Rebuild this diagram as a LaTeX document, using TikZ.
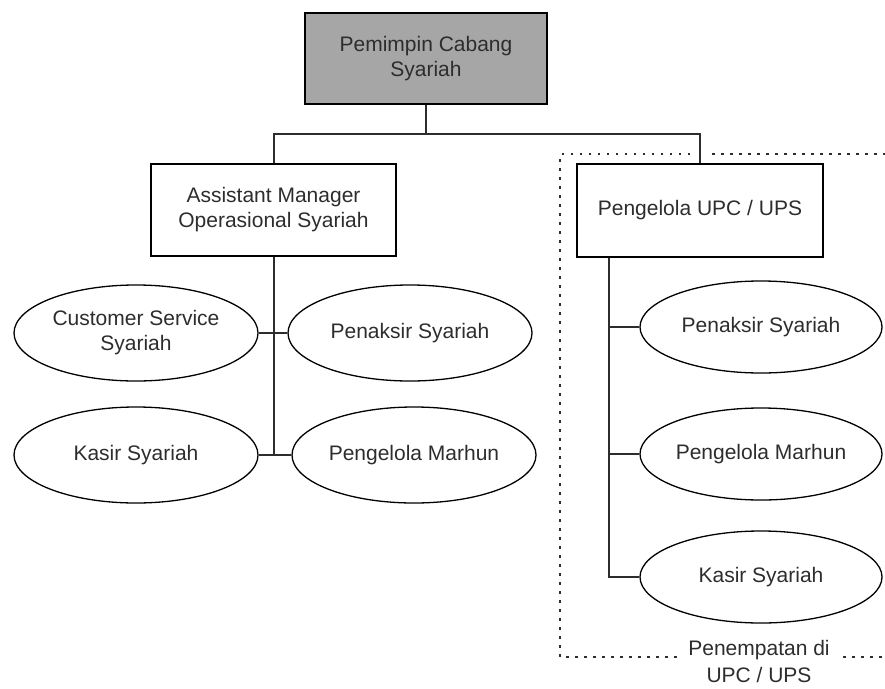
\documentclass[tikz,border=0pt]{standalone}
\usepackage{fontspec}
\setmainfont{Liberation Sans}
\usetikzlibrary{shapes.geometric}
\definecolor{kepala}{RGB}{166,166,166}
\definecolor{tinta}{RGB}{45,45,45}
\tikzset{
  kotak/.style={draw, line width=1.3pt, minimum width=245pt, minimum height=92pt,
    align=center, inner sep=0pt, text=tinta},
  elips/.style={draw, ellipse, line width=1.3pt, minimum width=244pt, minimum height=96pt,
    align=center, inner sep=0pt, text=tinta},
  garis/.style={line width=2pt, tinta},
  titik/.style={line width=2.2pt, dash pattern=on 2.5pt off 6.5pt, tinta}
}
\begin{document}
\begin{tikzpicture}[x=1pt, y=-1pt, font=\fontsize{21}{25}\selectfont]
    \useasboundingbox (0,0) rectangle (885,688);
    % kotak jabatan
    \node[kotak, fill=kepala, minimum width=242pt, minimum height=91pt] (pimpinan) at (426,58.5) {Pemimpin Cabang\\Syariah};
    \node[kotak] (asmen) at (273.5,210) {Assistant Manager\\Operasional Syariah};
    \node[kotak, minimum width=246pt, minimum height=93pt] (upc) at (700,210.5) {Pengelola UPC / UPS};
    % elips kiri
    \node[elips] (cs) at (136,333) {Customer Service\\Syariah};
    \node[elips] (penaksirA) at (410,333) {Penaksir Syariah};
    \node[elips] (kasirA) at (136,455) {Kasir Syariah};
    \node[elips] (marhunA) at (414,455) {Pengelola Marhun};
    % elips kanan
    \node[elips, minimum width=242pt, minimum height=92pt] (penaksirB) at (761,327) {Penaksir Syariah};
    \node[elips, minimum width=242pt, minimum height=92pt] (marhunB) at (761,454) {Pengelola Marhun};
    \node[elips, minimum width=242pt, minimum height=92pt] (kasirB) at (761,577) {Kasir Syariah};
    % garis
    \coordinate (simpang) at (426,134);
    \draw[garis] (pimpinan.south) -- (simpang);
    \draw[garis] (asmen.north) |- (simpang) -| (upc.north);
    \draw[garis] (asmen.south) -- (asmen.south |- kasirA.east);
    \draw[garis] (cs.east) -- (penaksirA.west);
    \draw[garis] (kasirA.east) -- (marhunA.west);
    \coordinate (akar) at ([xshift=33pt]upc.south west);
    \draw[garis] (akar) |- (kasirB.west);
    \draw[garis] (akar |- penaksirB.west) -- (penaksirB.west);
    \draw[garis] (akar |- marhunB.west) -- (marhunB.west);
    % batas penempatan
    \draw[titik] (690,154) -- (560,154) -- (560,657) -- (677,657);
    \draw[titik] (712,154) -- (885,154);
    \draw[titik] (843,657) -- (885,657);
    \node[align=center, text=tinta, font=\fontsize{21}{27}\selectfont] (tempat) at (759,661.5) {Penempatan di\\UPC / UPS};
\end{tikzpicture}
\end{document}
